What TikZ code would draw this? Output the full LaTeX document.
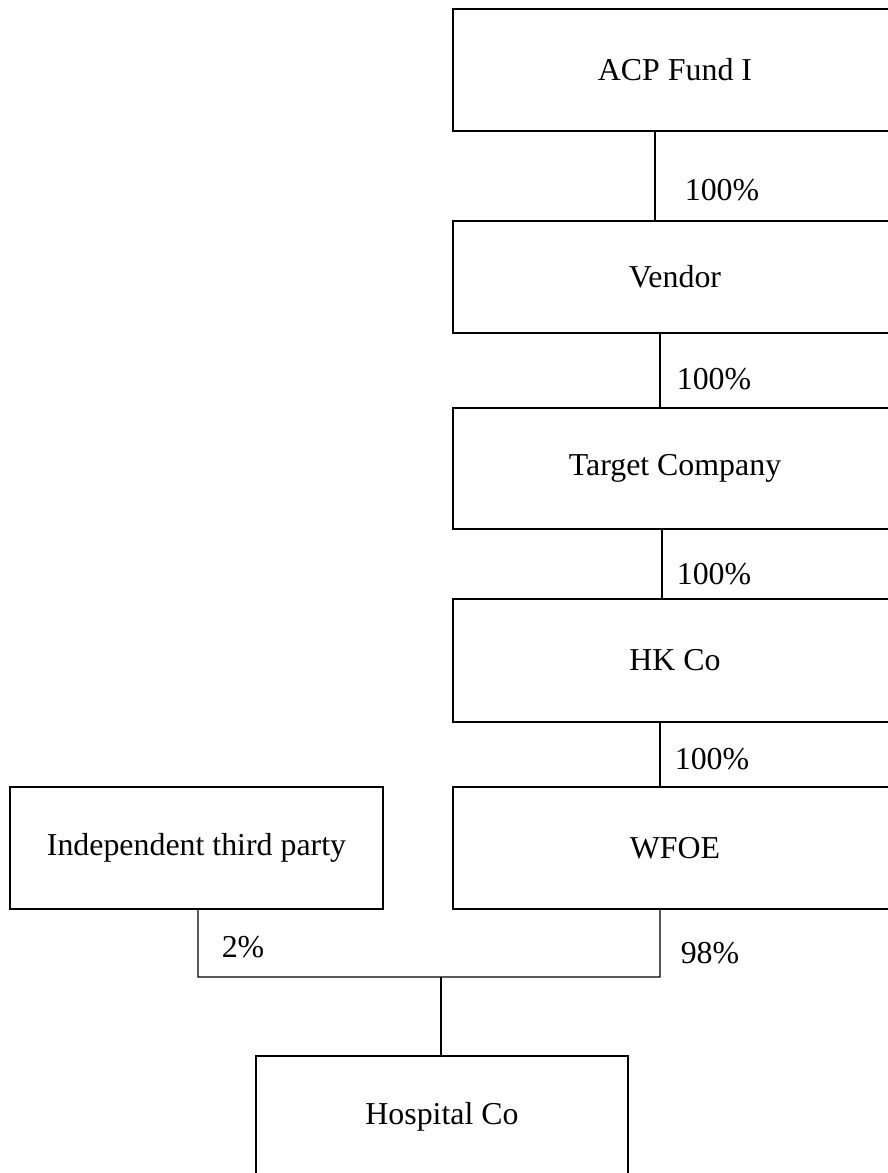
\documentclass[tikz,border=0pt]{standalone}
\usepackage{fontspec}
\setmainfont{Liberation Serif}
\begin{document}
\begin{tikzpicture}[x=1bp,y=-1bp,
  box/.style={draw,line width=2bp,inner sep=0pt,minimum width=444bp,minimum height=122bp,font=\fontsize{32}{37}\selectfont},
  conn/.style={line width=1.4bp},
  pct/.style={font=\fontsize{32}{37}\selectfont,inner sep=0pt}]
\useasboundingbox (0,0) rectangle (888,1173);
\node[box] (acp) at (675,70) {ACP Fund I};
\node[box,minimum height=112bp] (vendor) at (675,277) {Vendor};
\node[box,minimum height=121bp] (target) at (675,468.5) {Target Company};
\node[box,minimum height=123bp] (hk) at (675,660.5) {HK Co};
\node[box] (wfoe) at (675,848) {WFOE};
\node[box,minimum width=373bp] (indep) at (196.5,848) {Independent third party};
\node[box,minimum width=372bp] (hosp) at (442,1117) {Hospital Co};
\draw[conn] ([xshift=-20bp]acp.south) -- ([xshift=-20bp]vendor.north);
\draw[conn] ([xshift=-15bp]vendor.south) -- ([xshift=-15bp]target.north);
\draw[conn] ([xshift=-13bp]target.south) -- ([xshift=-13bp]hk.north);
\draw[conn] ([xshift=-15bp]hk.south) -- ([xshift=-15bp]wfoe.north);
\coordinate (jl) at (198,977);
\coordinate (jr) at (660,977);
\coordinate (jm) at (441,977);
\draw[conn] ([xshift=-15bp]wfoe.south) -- (jr) -- (jl) -- ([xshift=1.5bp]indep.south);
\draw[conn] (jm) -- ([xshift=-1bp]hosp.north);
\node[pct] (p1) at (722,190) {100\%};
\node[pct] (p2) at (714,379) {100\%};
\node[pct] (p3) at (714,574) {100\%};
\node[pct] (p4) at (712,759) {100\%};
\node[pct] (p5) at (243,947) {2\%};
\node[pct] (p6) at (710,953) {98\%};
\end{tikzpicture}
\end{document}
